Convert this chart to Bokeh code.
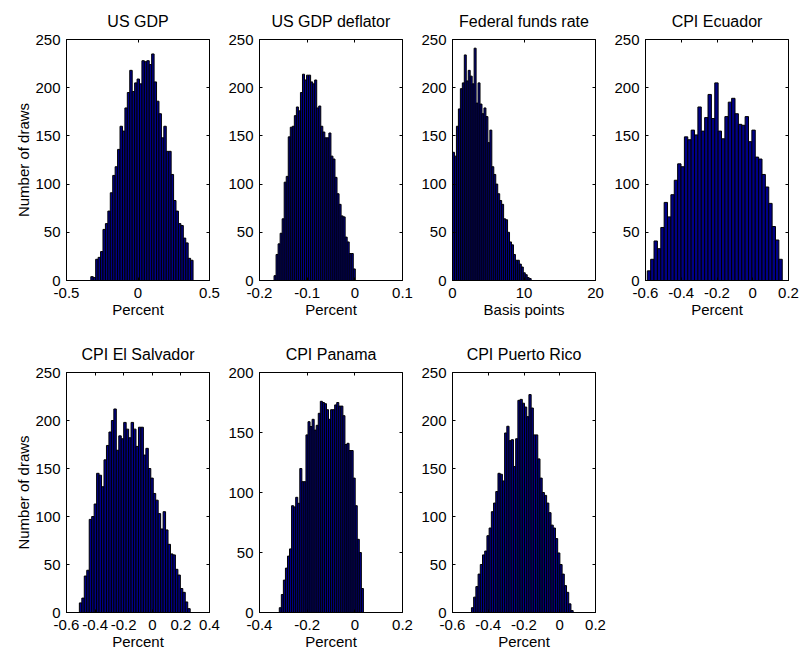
from bokeh.plotting import figure
from bokeh.layouts import column, row
from bokeh.models import Range1d, FixedTicker, LinearAxis, Title
from bokeh.embed import file_html
from bokeh.resources import INLINE

FONT = "Liberation Sans"

titles = ["US GDP", "US GDP deflator", "Federal funds rate", "CPI Ecuador",
          "CPI El Salvador", "CPI Panama", "CPI Puerto Rico"]
xlabels = ["Percent", "Percent", "Basis points", "Percent",
           "Percent", "Percent", "Percent"]
ylabel = "Number of draws"

us_gdp = [4, 3, 22, 24, 30, 53, 59, 72, 91, 109, 118, 136, 160, 155, 179, 195, 218,
          196, 205, 209, 204, 228, 227, 228, 224, 235, 206, 186, 173, 148, 160, 134,
          134, 110, 83, 72, 59, 57, 44, 39, 23, 21]
us_gdp_deflator = [5, 27, 38, 49, 64, 102, 108, 149, 159, 160, 171, 180, 176, 195, 214,
                   208, 213, 213, 206, 204, 208, 179, 181, 160, 154, 148, 148, 153, 129,
                   126, 107, 90, 79, 67, 66, 45, 40, 28, 28, 12]
fed_funds = [133, 129, 160, 178, 199, 205, 234, 207, 218, 212, 204, 241, 184, 205, 183,
             173, 179, 170, 143, 156, 118, 110, 100, 90, 83, 79, 64, 63, 50, 40, 37, 27,
             21, 21, 17, 14, 8, 6, 3, 2]
cpi_ecuador = [10, 22, 41, 33, 55, 81, 66, 89, 104, 121, 118, 149, 146, 156, 151, 180,
               155, 169, 193, 168, 205, 155, 147, 170, 185, 189, 173, 162, 161, 170, 144,
               156, 128, 126, 110, 97, 80, 56, 42, 22]
cpi_el_salvador = [10, 15, 38, 44, 97, 100, 113, 145, 143, 131, 159, 174, 188, 200, 212,
                   169, 184, 181, 198, 191, 182, 198, 191, 173, 193, 193, 164, 171, 150,
                   140, 124, 117, 103, 87, 105, 86, 71, 61, 60, 45, 39, 25, 21, 11, 4]
cpi_panama = [4, 15, 27, 37, 47, 53, 89, 88, 96, 91, 120, 109, 109, 148, 159, 155, 161,
              152, 156, 166, 176, 175, 174, 169, 161, 169, 169, 173, 175, 172, 172, 164,
              140, 141, 135, 135, 112, 89, 61, 50, 20]
cpi_puerto_rico = [5, 16, 27, 40, 50, 60, 64, 80, 88, 105, 114, 126, 145, 144, 137, 187,
                   194, 179, 180, 152, 181, 221, 222, 218, 214, 204, 227, 213, 185, 185,
                   160, 140, 125, 122, 114, 104, 91, 88, 77, 62, 50, 40, 28, 21, 9, 2]

series = [us_gdp, us_gdp_deflator, fed_funds, cpi_ecuador,
          cpi_el_salvador, cpi_panama, cpi_puerto_rico]
bin_first = [-0.33, -0.1695, 0.0, -0.59, -0.51, -0.317, -0.494]
bin_last = [0.385, 0.001, 11.0, 0.165, 0.265, 0.036, 0.075]

x_limits = [(-0.5, 0.5), (-0.2, 0.1), (0, 20), (-0.6, 0.2),
            (-0.6, 0.4), (-0.4, 0.2), (-0.6, 0.2)]
x_ticks = [[-0.5, 0, 0.5], [-0.2, -0.1, 0, 0.1], [0, 10, 20],
           [-0.6, -0.4, -0.2, 0, 0.2], [-0.6, -0.4, -0.2, 0, 0.2, 0.4],
           [-0.4, -0.2, 0, 0.2], [-0.6, -0.4, -0.2, 0, 0.2]]
y_max = [250, 250, 250, 250, 250, 200, 250]
y_ticks = [[0, 50, 100, 150, 200, 250]] * 5 + [[0, 50, 100, 150, 200]] + [[0, 50, 100, 150, 200, 250]]

BAR_FILL = "#000088"
TICK_FS = "15px"
TITLE_FS = "16px"


def label_map(ticks):
    return {float(t): ("%g" % t) for t in ticks}


def panel(i, col, top_row):
    counts = series[i]
    n = len(counts)
    w = (bin_last[i] - bin_first[i]) / n
    lefts = [bin_first[i] + k * w for k in range(n)]
    rights = [bin_first[i] + (k + 1) * w for k in range(n)]

    title = Title(text=titles[i], align="center", text_font=FONT,
                  text_font_size=TITLE_FS, text_font_style="normal",
                  text_color="black", standoff=19)
    p = figure(frame_width=143, frame_height=241 if top_row else 240,
               x_range=Range1d(*x_limits[i]), y_range=Range1d(0, y_max[i]),
               output_backend="svg", toolbar_location=None, tools="",
               title=title,
               min_border_left=66 if col == 0 else 38,
               min_border_right=11 if col == 3 else 12,
               min_border_top=39 if top_row else 42,
               min_border_bottom=50 if top_row else 0,
               background_fill_color="white", border_fill_color="white")
    p.quad(left=lefts, right=rights, bottom=0, top=counts,
           fill_color=BAR_FILL, line_color="black", line_width=1)

    p.outline_line_color = "black"
    p.outline_line_width = 1
    p.outline_line_alpha = 1
    p.xgrid.visible = False
    p.ygrid.visible = False

    xa = p.xaxis[0]
    xa.ticker = FixedTicker(ticks=x_ticks[i])
    xa.major_label_overrides = label_map(x_ticks[i])
    ya = p.yaxis[0]
    ya.ticker = FixedTicker(ticks=y_ticks[i])
    ya.major_label_overrides = label_map(y_ticks[i])
    for ax in (xa, ya):
        ax.major_tick_in = 3
        ax.major_tick_out = 0
        ax.minor_tick_line_color = None
        ax.axis_line_color = "black"
        ax.major_tick_line_color = "black"
        ax.major_label_text_font = FONT
        ax.major_label_text_font_size = TICK_FS
        ax.major_label_text_color = "black"
        ax.axis_label_text_font = FONT
        ax.axis_label_text_font_size = TICK_FS
        ax.axis_label_text_font_style = "normal"
        ax.axis_label_text_color = "black"
    xa.axis_label = xlabels[i]
    xa.major_label_standoff = 7
    xa.axis_label_standoff = 0
    ya.major_label_standoff = 6
    if col == 0:
        ya.axis_label = ylabel
        ya.axis_label_standoff = 0

    # mirrored inward ticks on top and right (MATLAB box style)
    top_ax = LinearAxis(ticker=FixedTicker(ticks=x_ticks[i]))
    right_ax = LinearAxis(ticker=FixedTicker(ticks=y_ticks[i]))
    for ax in (top_ax, right_ax):
        ax.major_tick_in = 3
        ax.major_tick_out = 0
        ax.minor_tick_line_color = None
        ax.axis_line_color = None
        ax.major_label_text_font_size = "0px"
        ax.major_label_standoff = 0
        ax.major_label_text_alpha = 0
    p.add_layout(top_ax, "above")
    p.add_layout(right_ax, "right")
    return p


cols = [0, 1, 2, 3, 0, 1, 2]
plots = [panel(i, cols[i], i < 4) for i in range(7)]
layout = column(row(*plots[:4]), row(*plots[4:]))

open("out.html", "w").write(file_html(layout, INLINE))
